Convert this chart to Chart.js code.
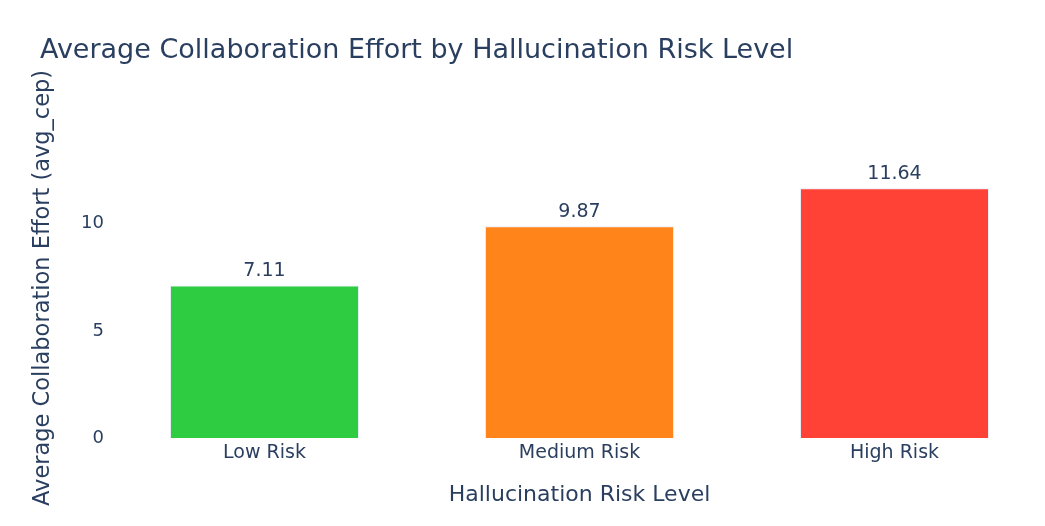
<!DOCTYPE html>
<html>
<head>
<meta charset="utf-8">
<script src="https://cdn.jsdelivr.net/npm/chart.js@4.4.1/dist/chart.umd.min.js"></script>
<style>
html,body{margin:0;padding:0;background:#fff;overflow:hidden;}
#wrap{width:1100px;height:526px;}
</style>
</head>
<body>
<div id="wrap"><canvas id="c" width="1100" height="526"></canvas></div>
<script>
const titleText = "Average Collaboration Effort by Hallucination Risk Level";
const categories = ["Low Risk", "Medium Risk", "High Risk"];
const avgCep = [7.11, 9.87, 11.64];
const barColors = ["#2ECC40", "#FF851B", "#FF4136"];
const yTicks = [0, 5, 10];
const xAxisTitle = "Hallucination Risk Level";
const yAxisTitle = "Average Collaboration Effort (avg_cep)";

const FONT = "'DejaVu Sans', Verdana, sans-serif";
const TXT = "#2a3f5f";

const titlePlugin = {
  id: 'plotTitle',
  afterDraw(chart) {
    const ctx = chart.ctx;
    ctx.save();
    ctx.font = "27px " + FONT;
    ctx.fillStyle = TXT;
    ctx.textAlign = 'left';
    ctx.textBaseline = 'alphabetic';
    ctx.fillText(titleText, 40, 58);
    ctx.restore();
  }
};

const valueLabels = {
  id: 'valueLabels',
  afterDatasetsDraw(chart) {
    const ctx = chart.ctx;
    const meta = chart.getDatasetMeta(0);
    ctx.save();
    ctx.font = "19px " + FONT;
    ctx.fillStyle = TXT;
    ctx.textAlign = 'center';
    ctx.textBaseline = 'alphabetic';
    meta.data.forEach((bar, i) => {
      ctx.fillText(avgCep[i].toFixed(2), bar.x, bar.y - 9.5);
    });
    ctx.restore();
  }
};

new Chart(document.getElementById('c'), {
  type: 'bar',
  data: {
    labels: categories,
    datasets: [{
      data: avgCep,
      backgroundColor: barColors,
      borderColor: '#E5ECF6',
      borderWidth: 1,
      categoryPercentage: 1.0,
      barPercentage: 0.6
    }]
  },
  options: {
    responsive: false,
    animation: false,
    devicePixelRatio: 1,
    layout: { padding: { top: 137.6, left: 0, right: 48, bottom: 0 } },
    plugins: { legend: { display: false }, title: { display: false }, tooltip: { enabled: false } },
    scales: {
      x: {
        grid: { display: false, drawTicks: false },
        border: { display: false },
        ticks: { color: TXT, font: { family: FONT, size: 19 }, padding: 3 },
        title: { display: true, text: xAxisTitle, color: TXT, font: { family: FONT, size: 22 }, padding: { top: 0, bottom: 18 } },
        afterFit(s) { s.height = 87.7; }
      },
      y: {
        min: 0,
        max: 14,
        grid: { display: false, drawTicks: false },
        border: { display: false },
        ticks: { color: TXT, font: { family: FONT, size: 18 }, padding: 3 },
        afterBuildTicks(s) { s.ticks = yTicks.map(v => ({ value: v })); },
        title: { display: true, text: yAxisTitle, color: TXT, font: { family: FONT, size: 22.5 }, padding: { top: 30, bottom: 0 } },
        afterFit(s) { s.width = 107; }
      }
    }
  },
  plugins: [titlePlugin, valueLabels]
});
</script>
</body>
</html>
